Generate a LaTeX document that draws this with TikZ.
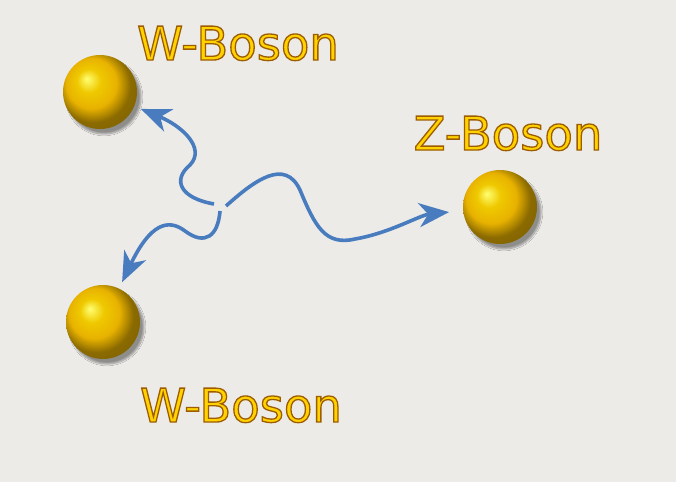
\documentclass[tikz,border=0pt]{standalone}
\usepackage{fontspec}
\usepackage{xcolor}
\usepackage{tikz}
\usetikzlibrary{arrows.meta,shadows.blur}
\newfontfamily\labelfont{DejaVu Sans}
\definecolor{paper}{RGB}{236,235,232}
\definecolor{wavecol}{RGB}{72,124,190}
\definecolor{gold}{RGB}{232,178,0}
\definecolor{fillc}{RGB}{255,210,0}
\pgfdeclareradialshading{goldball}{\pgfpoint{-9bp}{9bp}}{color(0bp)=(yellow!55!white); color(8bp)=(gold!70!yellow); color(17bp)=(gold); color(25bp)=(gold!60!black); color(50bp)=(gold!45!black)}
% yellow letters with a dark gold rim
\newcommand{\bosontext}[1]{\special{pdf:literal direct q 2 Tr 1.3 w 0.62 0.36 0.0 RG}#1\special{pdf:literal direct Q}}
\tikzset{
	boson/.style={circle,minimum size=74pt,inner sep=0pt,shade,shading=goldball,
			blur shadow={shadow xshift=4pt,shadow yshift=-5pt,shadow opacity=40,shadow blur steps=10}},
	bosonlabel/.style={anchor=base,text=fillc,font=\labelfont\fontsize{46.5}{56}\selectfont},
	wavy/.style={color=wavecol,line width=3.6pt,
			-{Stealth[length=30pt,width=24pt,inset=9pt]}}
}
\begin{document}
\begin{tikzpicture}[x=1pt,y=-1pt]
		\fill[fill=paper] (0,0) rectangle (676,482);
		% bosons
		\node [boson] (wtop) at (100,92) {};
		\node [boson] (wbot) at (103,322) {};
		\node [boson] (zbos) at (500,207) {};
		\node [bosonlabel] (wtoplabel) at (238,60) {\bosontext{W-Boson}};
		\node [bosonlabel] (zboslabel) at (508,150) {\bosontext{Z-Boson}};
		\node [bosonlabel] (wbotlabel) at (241,422) {\bosontext{W-Boson}};
		% decay
		\coordinate (sA) at (214,204);
		\coordinate (sB) at (220,211);
		\coordinate (sC) at (226,206);
		\draw [wavy,shorten >=7pt] (sA) .. controls (180,198) and (172,180) .. (190,165) .. controls (206,148) and (182,126) .. (wtop);
		\draw [wavy,shorten >=7pt] (sB) .. controls (218,236) and (205,246) .. (185,231) .. controls (168,218) and (150,224) .. (wbot);
		\draw [wavy,shorten >=14pt] (sC) .. controls (255,180) and (285,158) .. (300,190) .. controls (315,226) and (325,246) .. (355,239) .. controls (390,233) and (420,215) .. (zbos);
	\end{tikzpicture}
\end{document}
